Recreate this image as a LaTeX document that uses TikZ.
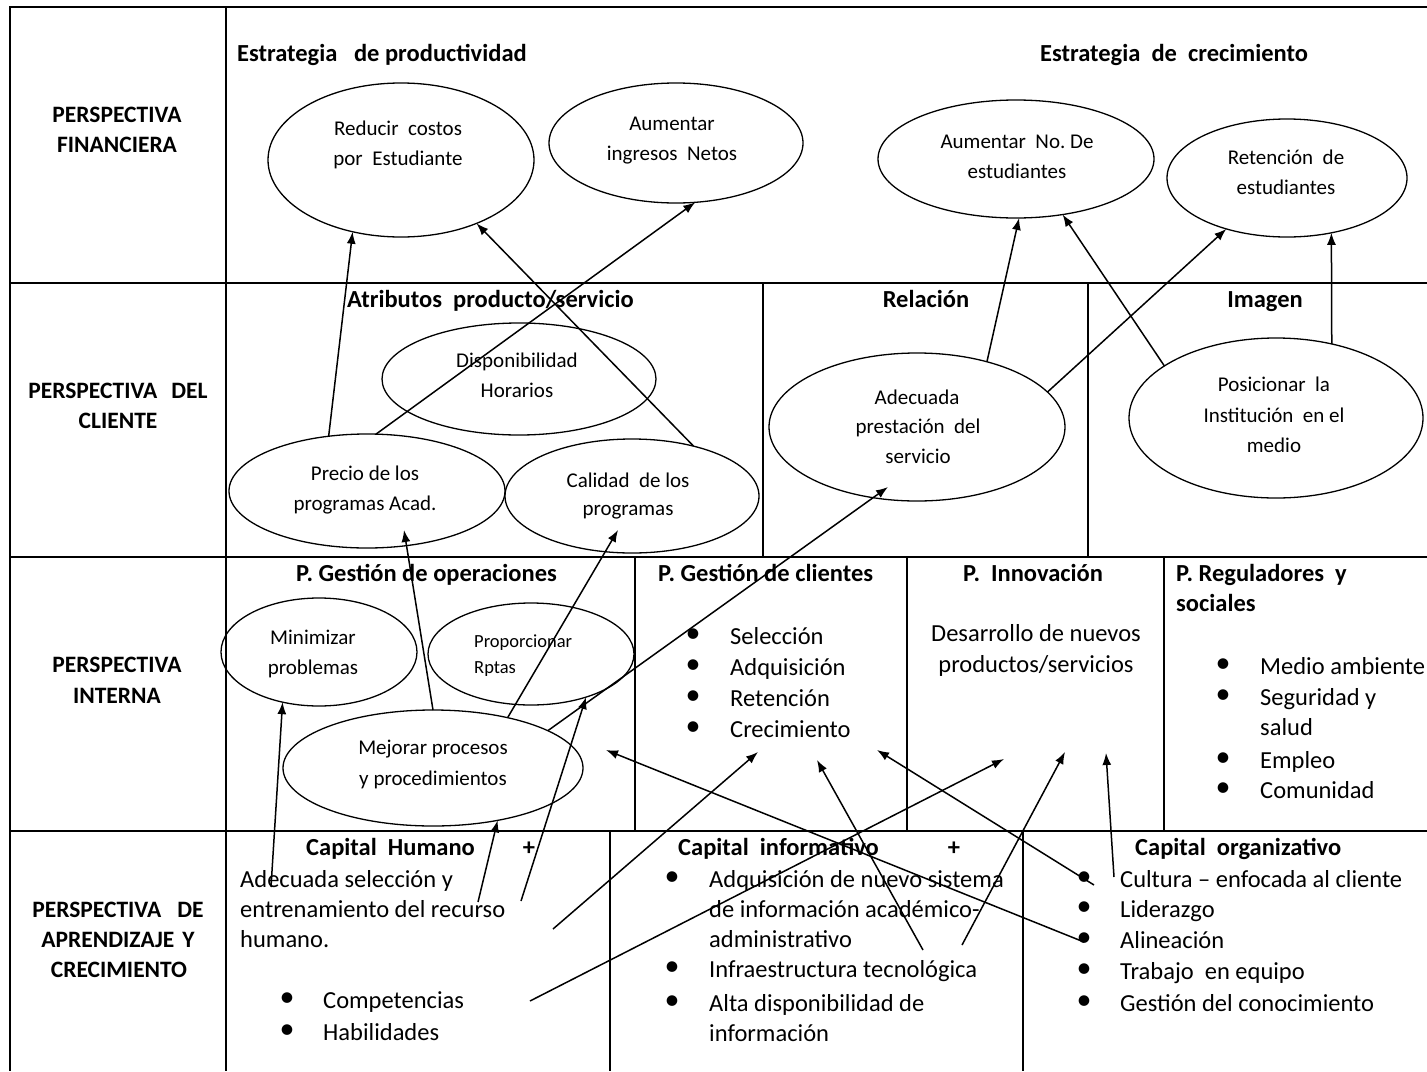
\documentclass[tikz,border=0pt]{standalone}
\usepackage{fontspec}
\setmainfont{Carlito}
\usetikzlibrary{shapes.geometric,arrows.meta}
\newcommand\bodyf{\fontsize{24.5}{30}\selectfont}
\newcommand\bulf{\fontsize{30}{30}\selectfont}
\newcommand\ellf{\fontsize{21}{30}\selectfont}
\newcommand\rptf{\fontsize{18.5}{26}\selectfont}
\newcommand\headf{\fontsize{24.5}{30}\selectfont\bfseries}
\newcommand\lblf{\fontsize{23.5}{30}\selectfont\bfseries}
\begin{document}
\begin{tikzpicture}[x=1pt,y=-1pt,
  grid/.style={line width=1.6pt},
  ell/.style={ellipse,draw,line width=1.3pt,inner sep=0pt,outer sep=0pt},
  et/.style={inner sep=0pt,anchor=base,font=\ellf},
  bt/.style={inner sep=0pt,anchor=base west,font=\bodyf},
  bct/.style={inner sep=0pt,anchor=base,font=\bodyf},
  bul/.style={inner sep=0pt,anchor=center,font=\bulf,yshift=8pt},
  hd/.style={inner sep=0pt,anchor=base west,font=\headf},
  hdc/.style={inner sep=0pt,anchor=base,font=\headf},
  lbl/.style={inner sep=0pt,anchor=base,font=\lblf},
  arr/.style={line width=1.5pt,-{Latex[length=12pt,width=9pt]}}
]
\useasboundingbox (0,0) rectangle (1427,1071);
\fill[white] (0,0) rectangle (1427,1071);

% table grid
\draw[grid] (1427,7) -- (10,7) -- (10,1071);
\draw[grid] (226,7) -- (226,1071);
\draw[grid] (10,283) -- (1427,283);
\draw[grid] (10,557) -- (1427,557);
\draw[grid] (10,831) -- (1427,831);
\draw[grid] (763,283) -- (763,557);
\draw[grid] (1088,283) -- (1088,557);
\draw[grid] (635,557) -- (635,831);
\draw[grid] (907,557) -- (907,831);
\draw[grid] (1164,557) -- (1164,831);
\draw[grid] (610,831) -- (610,1071);
\draw[grid] (1023,831) -- (1023,1071);

% row labels
\node[lbl] (L1a) at (117,122) {PERSPECTIVA};
\node[lbl] (L1b) at (117,152) {FINANCIERA};
\node[lbl] (L2a) at (118,398) {PERSPECTIVA\hspace{14pt}DEL};
\node[lbl] (L2b) at (118,428) {CLIENTE};
\node[lbl] (L3a) at (117,672) {PERSPECTIVA};
\node[lbl] (L3b) at (117,703) {INTERNA};
\node[lbl] (L4a) at (118,917) {PERSPECTIVA\hspace{16pt}DE};
\node[lbl] (L4b) at (118,947) {APRENDIZAJE\hspace{8pt}Y};
\node[lbl] (L4c) at (119,977) {CRECIMIENTO};

% headings
\node[hd] (H1) at (237,61) {Estrategia\ \ \ de productividad};
\node[hd] (H2) at (1040,61) {Estrategia\ \ de\ \ crecimiento};
\node[hd] (H3) at (347,307) {Atributos\ \ producto/servicio};
\node[hdc] (H4) at (926,307) {Relación};
\node[hdc] (H5) at (1265,307) {Imagen};
\node[hd] (H6) at (296,581) {P. Gestión de operaciones};
\node[hd] (H7) at (658,581) {P. Gestión de clientes};
\node[hd] (H8) at (963,581) {P.\ \ Innovación};
\node[hd] (H9) at (1176,581) {P. Reguladores\ \ y};
\node[hd] (H9b) at (1176,611) {sociales};
\node[hd] (H10) at (306,855) {Capital\ \ Humano};
\node[hdc] (H10p) at (529,855) {+};
\node[hd] (H11) at (678,855) {Capital\ \ informativo};
\node[hdc] (H11p) at (954,855) {+};
\node[hd] (H12) at (1135,855) {Capital\ \ organizativo};

% ellipses
\node[ell,minimum width=266,minimum height=154] (R) at (401,160) {};
\node[ell,minimum width=254,minimum height=120] (I) at (676,143) {};
\node[ell,minimum width=276,minimum height=118] (N) at (1016,159) {};
\node[ell,minimum width=240,minimum height=118] (T) at (1287,178) {};
\node[ell,minimum width=274,minimum height=112] (D) at (519,379) {};
\node[ell,minimum width=276,minimum height=114] (P) at (367,491) {};
\node[ell,minimum width=254,minimum height=114] (C) at (632,496) {};
\node[ell,minimum width=296,minimum height=148] (A) at (917,427) {};
\node[ell,minimum width=294,minimum height=160] (S) at (1276,418) {};
\node[ell,minimum width=196,minimum height=108] (M) at (319,652) {};
\node[ell,minimum width=206,minimum height=102] (Q) at (531,654) {};
\node[ell,minimum width=300,minimum height=116] (J) at (433,768) {};

% ellipse texts
\node[et] (Rt1) at (398,135) {Reducir\ \ costos};
\node[et] (Rt2) at (398,165) {por\ \ Estudiante};
\node[et] (It1) at (672,130) {Aumentar};
\node[et] (It2) at (672,160) {ingresos\ \ Netos};
\node[et] (Nt1) at (1017,148) {Aumentar\ \ No.\ De};
\node[et] (Nt2) at (1017,178) {estudiantes};
\node[et] (Tt1) at (1286,164) {Retención\ \ de};
\node[et] (Tt2) at (1286,194) {estudiantes};
\node[et] (Dt1) at (517,367) {Disponibilidad};
\node[et] (Dt2) at (517,397) {Horarios};
\node[et] (Pt1) at (365,480) {Precio de los};
\node[et] (Pt2) at (365,510) {programas Acad.};
\node[et] (Ct1) at (628,487) {Calidad\ \ de los};
\node[et] (Ct2) at (628,515) {programas};
\node[et] (At1) at (917,404) {Adecuada};
\node[et] (At2) at (918,433) {prestación\ \ del};
\node[et] (At3) at (918,463) {servicio};
\node[et] (St1) at (1274,391) {Posicionar\ \ la};
\node[et] (St2) at (1274,422) {Institución\ \ en el};
\node[et] (St3) at (1274,452) {medio};
\node[et] (Mt1) at (313,644) {Minimizar};
\node[et] (Mt2) at (313,674) {problemas};
\node[et,anchor=base west,font=\rptf] (Qt1) at (474,647) {Proporcionar};
\node[et,anchor=base west,font=\rptf] (Qt2) at (474,673) {Rptas};
\node[et] (Jt1) at (433,754) {Mejorar procesos};
\node[et] (Jt2) at (433,785) {y procedimientos};

% P. Gestion de clientes
\node[bul] (gb1) at (693,644) {•};
\node[bt] (g1) at (730,644) {Selección};
\node[bul] (gb2) at (693,675) {•};
\node[bt] (g2) at (730,675) {Adquisición};
\node[bul] (gb3) at (693,706) {•};
\node[bt] (g3) at (730,706) {Retención};
\node[bul] (gb4) at (693,737) {•};
\node[bt] (g4) at (730,737) {Crecimiento};

% Innovacion
\node[bct] (in1) at (1036,641) {Desarrollo de nuevos};
\node[bct] (in2) at (1036,672) {productos/servicios};

% Reguladores
\node[bul] (rb1) at (1223,674) {•};
\node[bt] (r1) at (1260,674) {Medio ambiente};
\node[bul] (rb2) at (1223,705) {•};
\node[bt] (r2) at (1260,705) {Seguridad y};
\node[bt] (r2b) at (1260,735) {salud};
\node[bul] (rb3) at (1223,768) {•};
\node[bt] (r3) at (1260,768) {Empleo};
\node[bul] (rb4) at (1223,798) {•};
\node[bt] (r4) at (1260,798) {Comunidad};

% Capital humano
\node[bt] (ch1) at (240,887) {Adecuada selección y};
\node[bt] (ch2) at (240,917) {entrenamiento del recurso};
\node[bt] (ch3) at (240,947) {humano.};
\node[bul] (chb1) at (287,1008) {•};
\node[bt] (ch4) at (323,1008) {Competencias};
\node[bul] (chb2) at (287,1040) {•};
\node[bt] (ch5) at (323,1040) {Habilidades};

% Capital informativo
\node[bul] (cib1) at (672,887) {•};
\node[bt] (ci1) at (709,887) {Adquisición de nuevo sistema};
\node[bt] (ci2) at (709,917) {de información académico-};
\node[bt] (ci3) at (709,947) {administrativo};
\node[bul] (cib2) at (672,977) {•};
\node[bt] (ci4) at (709,977) {Infraestructura tecnológica};
\node[bul] (cib3) at (672,1011) {•};
\node[bt] (ci5) at (709,1011) {Alta disponibilidad de};
\node[bt] (ci6) at (709,1041) {información};

% Capital organizativo
\node[bul] (cob1) at (1084,887) {•};
\node[bt] (co1) at (1120,887) {Cultura – enfocada al cliente};
\node[bul] (cob2) at (1084,917) {•};
\node[bt] (co2) at (1120,917) {Liderazgo};
\node[bul] (cob3) at (1084,948) {•};
\node[bt] (co3) at (1120,948) {Alineación};
\node[bul] (cob4) at (1084,979) {•};
\node[bt] (co4) at (1120,979) {Trabajo\ \ en equipo};
\node[bul] (cob5) at (1084,1011) {•};
\node[bt] (co5) at (1120,1011) {Gestión del conocimiento};

% free ends
\coordinate (tP) at (404,530);
\coordinate (tC) at (618,530);
\coordinate (tA) at (888,487);
\coordinate (h1) at (271,887);
\coordinate (h2) at (478,902);
\coordinate (h3) at (521,901);
\coordinate (h4) at (553,929);
\coordinate (h5) at (530,1001);
\coordinate (f1) at (923,950);
\coordinate (f2) at (962,945);
\coordinate (o1) at (1114,877);
\coordinate (o2) at (1094,885);
\coordinate (o3) at (1084,942);
\coordinate (k1) at (758,752);
\coordinate (k2) at (1004,759);
\coordinate (k3) at (817,760);
\coordinate (k4) at (1065,752);
\coordinate (k5) at (1106,753);
\coordinate (k6) at (877,750);
\coordinate (k7) at (606,750);

% arrows
\draw[arr] (P.125) -- (R.236);
\draw[arr] (P.81) -- (I.288);
\draw[arr] (C.39) -- (R.320);
\draw[arr] (A.43) -- (N.273);
\draw[arr] (A.15) -- (T.220);
\draw[arr] (S.155) -- (N.310);
\draw[arr] (S.53) -- (T.309);
\draw[arr] (J.90) -- (tP);
\draw[arr] (J.34) -- (tC);
\draw[arr] (J.18) -- (tA);
\draw[arr] (h1) -- (M.234);
\draw[arr] (h2) -- (J.321);
\draw[arr] (h3) -- (Q.322);
\draw[arr] (h4) -- (k1);
\draw[arr] (h5) -- (k2);
\draw[arr] (f1) -- (k3);
\draw[arr] (f2) -- (k4);
\draw[arr] (o1) -- (k5);
\draw[arr] (o2) -- (k6);
\draw[arr] (o3) -- (k7);
\end{tikzpicture}
\end{document}
